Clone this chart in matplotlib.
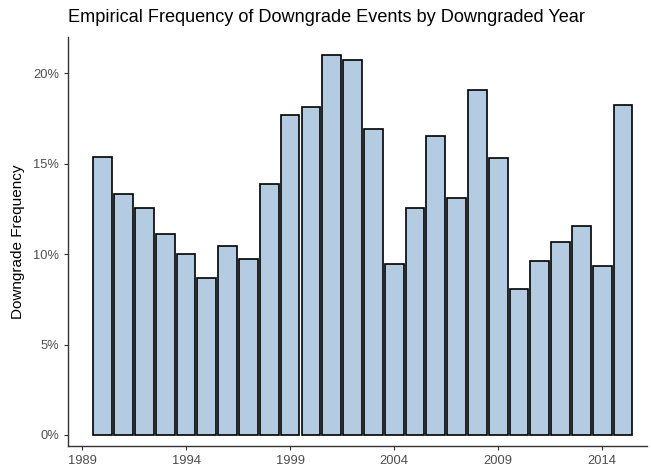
import matplotlib
matplotlib.use("Agg")
import matplotlib.pyplot as plt
from matplotlib.ticker import FuncFormatter

plt.rcParams['font.family'] = ['Liberation Sans', 'DejaVu Sans']

years = list(range(1990, 2016))
freq = [15.36, 13.3, 12.54, 11.1, 10.0, 8.67, 10.44, 9.72, 13.9, 17.68,
        18.12, 21.0, 20.72, 16.9, 9.45, 12.54, 16.52, 13.1, 19.06, 15.3,
        8.07, 9.61, 10.66, 11.55, 9.34, 18.23]
xticks = [1989, 1994, 1999, 2004, 2009, 2014]
yticks = [0, 5, 10, 15, 20]

fig = plt.figure(figsize=(6.51, 4.72), dpi=100)
ax = fig.add_axes([0.1045, 0.0551, 0.8894, 0.8665])
ax.bar(years, freq, width=0.9, color='#B4CCE1', edgecolor='black', linewidth=1.2)
ax.set_xlim(1988.33, 2016.15)
ax.set_ylim(-0.61, 22.0)
ax.set_xticks(xticks)
ax.set_yticks(yticks)
ax.yaxis.set_major_formatter(FuncFormatter(lambda v, p: f"{int(v)}%"))
for s in ['top', 'right']:
    ax.spines[s].set_visible(False)
for s in ['left', 'bottom']:
    ax.spines[s].set_color('#333333')
    ax.spines[s].set_linewidth(1.0)
ax.tick_params(axis='both', colors='#333333', labelcolor='#4D4D4D', labelsize=9.3, length=3, width=0.8)
ax.set_ylabel('Downgrade Frequency', fontsize=11, color='black', labelpad=6)
fig.text(0.1045, 0.962, 'Empirical Frequency of Downgrade Events by Downgraded Year',
         fontsize=13.1, ha='left', va='center', color='black')
fig.savefig('out.png', dpi=100)
